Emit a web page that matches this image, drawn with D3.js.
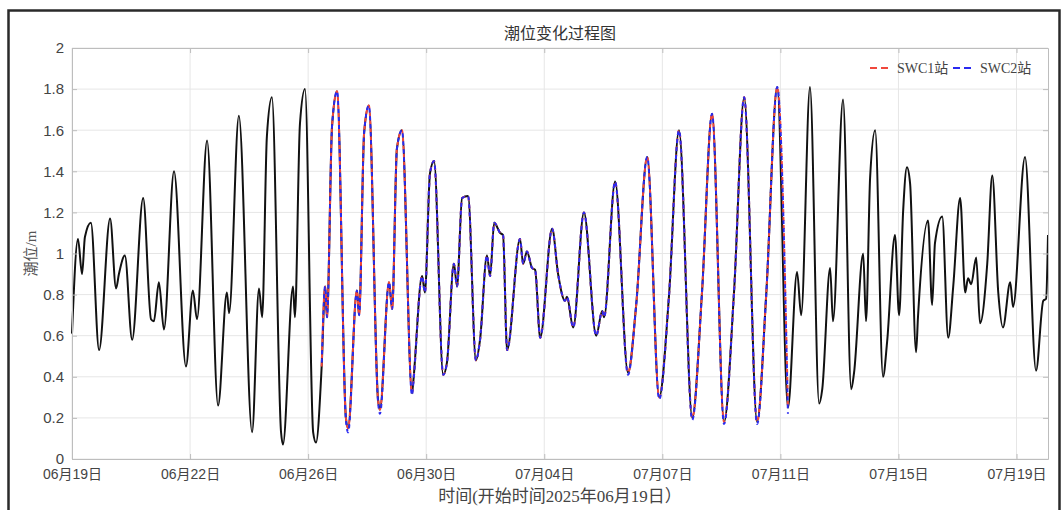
<!DOCTYPE html>
<html><head><meta charset="utf-8">
<script src="https://cdn.jsdelivr.net/npm/d3@7"></script>
<style>body{margin:0;background:#fff}svg{display:block}</style>
</head><body><svg id="c" width="1063" height="510"></svg>
<script>
// ---- data (time in days since 2025-06-19 00:00, tide level in m) ----
const days = [0.00,0.19,0.32,0.41,0.60,0.86,1.21,1.40,1.49,1.68,1.91,2.26,2.51,2.60,2.76,2.92,3.24,3.62,3.84,3.97,4.29,4.64,4.92,4.99,5.30,5.72,5.94,6.04,6.19,6.35,6.64,6.70,7.02,7.08,7.24,7.40,7.66,7.75,7.93,8.04,8.10,8.26,8.42,8.70,8.77,9.05,9.12,9.28,9.43,9.72,9.78,10.07,10.17,10.32,10.48,10.80,10.83,11.12,11.21,11.37,11.50,11.79,11.91,12.13,12.23,12.39,12.58,12.83,12.96,13.18,13.28,13.41,13.60,13.69,13.82,14.23,14.33,14.45,14.61,14.71,14.87,15.25,15.44,15.66,15.72,15.92,16.26,16.65,16.84,16.90,17.25,17.66,17.92,18.27,18.65,18.96,19.28,19.70,20.01,20.33,20.71,21.03,21.35,21.76,22.05,22.40,22.74,23.03,23.16,23.44,23.73,23.83,24.08,24.17,24.49,24.75,24.84,25.13,25.22,25.35,25.51,25.76,25.89,26.14,26.27,26.40,26.52,26.62,26.81,26.87,27.19,27.32,27.41,27.64,27.83,27.99,28.21,28.37,28.46,28.56,28.72,28.84,29.07,29.23,29.42,29.57,29.80,29.89,30.27,30.62,30.85,30.94,31.00];
const tide = [0.61,1.07,0.90,1.08,1.15,0.53,1.17,0.83,0.90,0.99,0.58,1.27,0.68,0.67,0.86,0.63,1.40,0.45,0.82,0.68,1.55,0.26,0.81,0.71,1.67,0.13,0.83,0.69,1.57,1.76,0.13,0.07,0.84,0.69,1.63,1.80,0.13,0.08,0.45,0.84,0.69,1.62,1.79,0.20,0.15,0.82,0.70,1.59,1.72,0.29,0.24,0.86,0.73,1.51,1.60,0.32,0.36,0.89,0.81,1.39,1.45,0.41,0.47,0.95,0.84,1.27,1.28,0.48,0.58,0.99,0.89,1.15,1.10,1.09,0.53,1.07,0.95,1.01,0.93,0.92,0.59,1.12,0.90,0.77,0.79,0.64,1.20,0.60,0.72,0.69,1.35,0.42,0.75,1.47,0.30,0.79,1.60,0.20,0.81,1.68,0.18,0.82,1.76,0.18,0.80,1.81,0.25,0.91,0.70,1.81,0.27,0.34,0.93,0.67,1.75,0.34,0.42,1.00,0.67,1.37,1.60,0.40,0.57,1.09,0.70,1.21,1.42,1.34,0.52,0.69,1.16,0.75,1.05,1.18,0.59,0.84,1.27,0.81,0.88,0.85,0.98,0.66,0.95,1.38,0.81,0.64,0.86,0.74,1.47,0.43,0.77,0.78,1.09];

const swcDays = [7.93,8.04,8.10,8.26,8.42,8.70,8.77,9.05,9.12,9.28,9.43,9.72,9.78,10.07,10.17,10.32,10.48,10.80,10.83,11.12,11.21,11.37,11.50,11.79,11.91,12.13,12.23,12.39,12.58,12.83,12.96,13.18,13.28,13.41,13.60,13.69,13.82,14.23,14.33,14.45,14.61,14.71,14.87,15.25,15.44,15.66,15.72,15.92,16.26,16.65,16.84,16.90,17.25,17.66,17.92,18.27,18.65,18.96,19.28,19.70,20.01,20.33,20.71,21.03,21.35,21.76,22.05,22.40,22.74];
const swc1 = [0.45,0.84,0.69,1.62,1.79,0.20,0.15,0.82,0.70,1.59,1.72,0.29,0.24,0.86,0.73,1.51,1.60,0.32,0.36,0.89,0.81,1.39,1.45,0.41,0.47,0.95,0.84,1.27,1.28,0.48,0.58,0.99,0.89,1.15,1.10,1.09,0.53,1.07,0.95,1.01,0.93,0.92,0.59,1.12,0.90,0.77,0.79,0.64,1.20,0.60,0.72,0.69,1.35,0.42,0.75,1.47,0.30,0.79,1.60,0.20,0.81,1.68,0.18,0.82,1.76,0.18,0.80,1.81,0.25];
const swc2 = [0.45,0.84,0.69,1.62,1.79,0.19,0.13,0.82,0.70,1.59,1.72,0.28,0.22,0.86,0.73,1.51,1.60,0.31,0.35,0.89,0.81,1.39,1.45,0.41,0.47,0.95,0.84,1.27,1.28,0.48,0.58,0.99,0.89,1.15,1.10,1.09,0.53,1.07,0.95,1.01,0.93,0.92,0.59,1.12,0.90,0.77,0.79,0.64,1.20,0.60,0.72,0.69,1.35,0.41,0.75,1.47,0.29,0.79,1.60,0.19,0.81,1.68,0.17,0.82,1.76,0.17,0.80,1.81,0.22];

const seriesNames = ["SWC1站","SWC2站"];
const xTickDays = [0,3.75,7.5,11.25,15,18.75,22.5,26.25,30];
const xTickLabels = ["06月19日","06月22日","06月26日","06月30日","07月04日","07月07日","07月11日","07月15日","07月19日"];
const yTicks = [0,0.2,0.4,0.6,0.8,1,1.2,1.4,1.6,1.8,2];
const yTickLabels = ["0","0.2","0.4","0.6","0.8","1","1.2","1.4","1.6","1.8","2"];
const titleText = "潮位变化过程图";
const xLabelText = "时间(开始时间2025年06月19日）";
const yLabelText = "潮位/m";

// ---- drawing ----
const svg = d3.select("#c");
const L=72, R=1048, T=48, B=459;
const x = d3.scaleLinear().domain([0,31]).range([L,R]);
const y = d3.scaleLinear().domain([0,2]).range([B,T]);
const sansFont = "'Liberation Sans', Arial, 'Noto Sans CJK SC', sans-serif";
const serifFont = "'Liberation Serif', 'Noto Sans CJK SC', serif";

svg.append("rect").attr("width",1063).attr("height",510).attr("fill","#fff");
// outer figure frame
svg.append("rect").attr("x",8.5).attr("y",10.5).attr("width",1051).attr("height",540)
  .attr("fill","none").attr("stroke","#2a2a2a").attr("stroke-width",2.5);

// grid
const grid = svg.append("g").attr("stroke","#e6e6e6").attr("stroke-width",1);
grid.selectAll("line.v").data(xTickDays).join("line")
  .attr("x1",d=>x(d)).attr("x2",d=>x(d)).attr("y1",T).attr("y2",B);
grid.selectAll("line.h").data(yTicks).join("line")
  .attr("x1",L).attr("x2",R).attr("y1",d=>y(d)).attr("y2",d=>y(d));

// lines
const line = (xs)=>d3.line().x((d,i)=>x(xs[i])).y(d=>y(d)).curve(d3.curveMonotoneX);
const plot = svg.append("g");
plot.append("path").datum(tide).attr("d",line(days))
  .attr("fill","none").attr("stroke","#111").attr("stroke-width",2).attr("stroke-linejoin","round");
plot.append("path").datum(swc1).attr("d",line(swcDays))
  .attr("fill","none").attr("stroke","#f0483c").attr("stroke-width",2).attr("stroke-dasharray","4,4");
plot.append("path").datum(swc2).attr("d",line(swcDays))
  .attr("fill","none").attr("stroke","#2a2af0").attr("stroke-width",2).attr("stroke-dasharray","4,4").attr("stroke-dashoffset",4);

// axes
const axColor = "#bdbdbd", txtColor = "#444";
function styleAxis(g, showText){
  g.select(".domain").attr("stroke",axColor);
  g.selectAll(".tick line").attr("stroke",axColor);
  g.selectAll(".tick text").attr("fill",txtColor).style("font-family",sansFont).style("font-size","14px");
  if(!showText) g.selectAll(".tick text").remove();
}
const xb = svg.append("g").attr("transform",`translate(0,${B})`)
  .call(d3.axisBottom(x).tickValues(xTickDays).tickFormat((d,i)=>xTickLabels[i]).tickSizeInner(-5).tickSizeOuter(0).tickPadding(10));
styleAxis(xb,true);
const xt = svg.append("g").attr("transform",`translate(0,${T})`)
  .call(d3.axisTop(x).tickValues(xTickDays).tickSizeInner(-5).tickSizeOuter(0));
styleAxis(xt,false);
const yl = svg.append("g").attr("transform",`translate(${L},0)`)
  .call(d3.axisLeft(y).tickValues(yTicks).tickFormat((d,i)=>yTickLabels[i]).tickSizeInner(-5).tickSizeOuter(0).tickPadding(8));
styleAxis(yl,true);
yl.selectAll(".tick text").style("font-size","15px");
const yr = svg.append("g").attr("transform",`translate(${R},0)`)
  .call(d3.axisRight(y).tickValues(yTicks).tickSizeInner(-5).tickSizeOuter(0));
styleAxis(yr,false);

// title and labels
svg.append("text").attr("x",(L+R)/2).attr("y",39).attr("text-anchor","middle")
  .attr("fill","#333").style("font-family","'Noto Sans CJK SC', sans-serif").style("font-size","16px").text(titleText);
svg.append("text").attr("x",(L+R)/2).attr("y",502).attr("text-anchor","middle")
  .attr("fill","#444").style("font-family",serifFont).style("font-size","17px").text(xLabelText);
svg.append("text").attr("transform",`translate(36,${(T+B)/2}) rotate(-90)`).attr("text-anchor","middle")
  .attr("fill","#555").style("font-family",serifFont).style("font-size","15px").text(yLabelText);

// legend
const lg = svg.append("g").attr("transform","translate(870,68)");
const legColors = ["#f0483c","#2a2af0"];
const legX = [0,83];
seriesNames.forEach((n,i)=>{
  lg.append("line").attr("x1",legX[i]).attr("x2",legX[i]+22).attr("y1",0).attr("y2",0)
    .attr("stroke",legColors[i]).attr("stroke-width",2).attr("stroke-dasharray","7,4");
  lg.append("text").attr("x",legX[i]+27).attr("y",5).attr("fill","#444")
    .style("font-family",serifFont).style("font-size","14px").text(n);
});
</script></body></html>
